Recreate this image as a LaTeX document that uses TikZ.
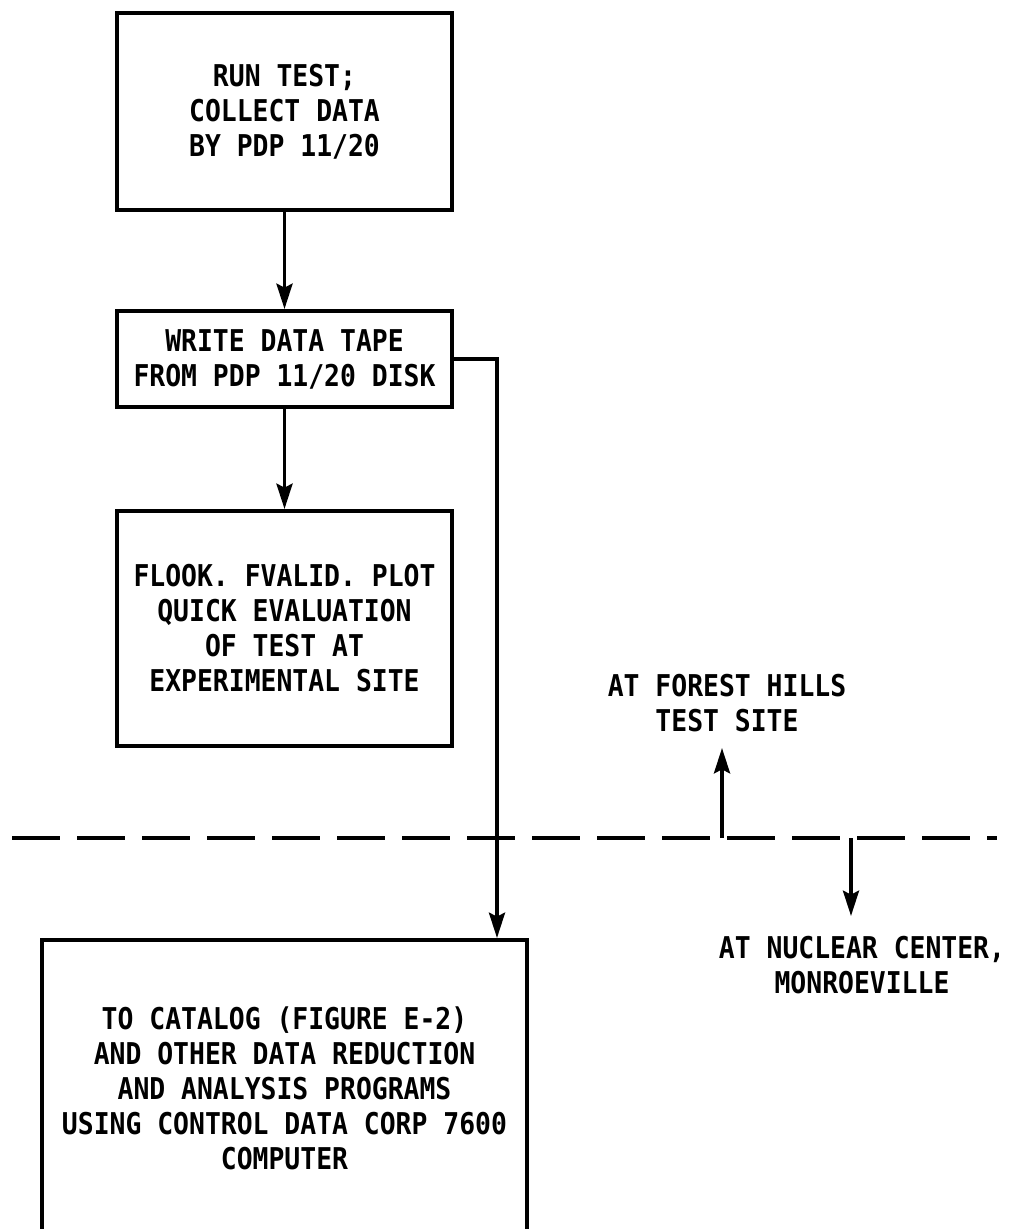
\documentclass[tikz,border=0pt]{standalone}
\usepackage{fontspec}
\newfontfamily\lettering[FakeStretch=0.88]{DejaVu Sans Mono}
\usetikzlibrary{arrows.meta, positioning}

\begin{document}
\begin{tikzpicture}[
      x=0.75pt, y=-0.75pt,
      node distance=73pt,
      box/.style={draw, line width=3pt, align=center, inner sep=0pt,
                  minimum width=251.25pt, font=\lettering\bfseries\fontsize{22.5}{26.25}\selectfont},
      note/.style={align=center, inner sep=0pt, font=\lettering\bfseries\fontsize{22.5}{26.25}\selectfont},
      flow/.style={-{Stealth[length=19pt, width=12pt, inset=3pt]}, line width=2.8pt},
      border/.style={line width=3pt, dash pattern=on 36pt off 12.75pt}]
    \clip (0,0) rectangle (1009,1229);
    % site computer
    \node[box, minimum height=147.75pt] (run) at (284.5,111.5) {RUN TEST;\\ COLLECT DATA\\ BY PDP 11/20};
    \node[box, minimum height=72pt, below=72.75pt of run] (tape) {WRITE DATA TAPE\\ FROM PDP 11/20 DISK};
    \node[box, minimum height=176.25pt, below=75pt of tape] (look) {FLOOK. FVALID. PLOT\\ QUICK EVALUATION\\ OF TEST AT\\ EXPERIMENTAL SITE};
    % central computer, cut off at the bottom
    \node[box, minimum width=363.75pt, minimum height=222pt] (cdc) at (284.5,1088) {TO CATALOG (FIGURE E-2)\\ AND OTHER DATA REDUCTION\\ AND ANALYSIS PROGRAMS\\ USING CONTROL DATA CORP 7600\\ COMPUTER};
    % boundary between the two sites
    \coordinate (wL) at (12,838);
    \coordinate (wR) at (997,838);
    \coordinate (upfoot) at (722,838);
    \coordinate (uptip) at (722,748);
    \coordinate (dnfoot) at (851,838);
    \coordinate (dntip) at (851,916);
    \coordinate (drop) at (497,0);
    \node[note] (forest) at (727,703) {AT FOREST HILLS\\ TEST SITE};
    \node[note] (nuclear) at (862,965.5) {AT NUCLEAR CENTER,\\ MONROEVILLE};
    % edges
    \draw[flow] (run) -- (tape);
    \draw[flow] (tape) -- (look);
    \draw[flow] (tape.east) -| (cdc.north -| drop);
    \draw[border] (wL) -- (wR);
    \draw[flow] (upfoot) -- (uptip);
    \draw[flow] (dnfoot) -- (dntip);
\end{tikzpicture}
\end{document}
